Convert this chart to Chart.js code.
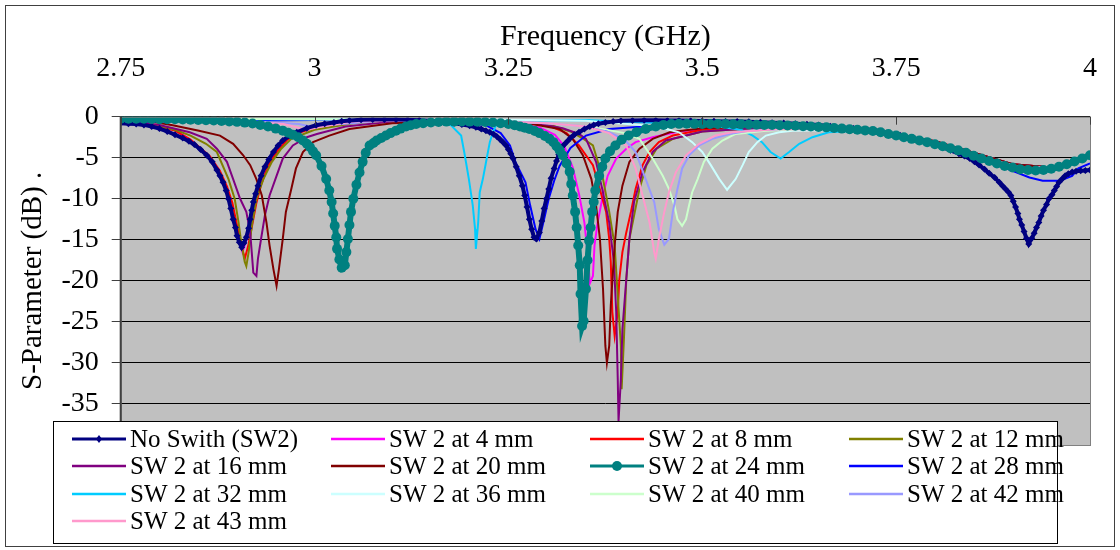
<!DOCTYPE html>
<html>
<head>
<meta charset="utf-8">
<title>S-Parameter vs Frequency</title>
<script src="https://cdn.jsdelivr.net/npm/chart.js@4/dist/chart.umd.min.js"></script>
<style>
  html, body { margin: 0; padding: 0; background: #fff; }
  #wrap { width: 1120px; height: 550px; }
</style>
</head>
<body>
<div id="wrap"><canvas id="sparamChart" width="1120" height="550"></canvas></div>
<script>
const freqTicks = [2.75, 3, 3.25, 3.5, 3.75, 4];
const dbTicks = [0, -5, -10, -15, -20, -25, -30, -35];

const noSwitch = [[2.75,-0.8],[2.76,-0.85],[2.77,-0.9],[2.78,-1.0],[2.79,-1.2],[2.80,-1.45],[2.81,-1.8],[2.82,-2.2],[2.83,-2.6],[2.838,-3.0],[2.845,-3.4],[2.853,-4.0],[2.861,-4.7],[2.868,-5.5],[2.874,-6.5],[2.878,-7.2],[2.882,-8.0],[2.886,-9.0],[2.889,-10],[2.892,-11.2],[2.895,-12.5],[2.898,-13.5],[2.900,-14.5],[2.903,-15.3],[2.906,-15.9],[2.909,-15.4],[2.912,-14.7],[2.915,-13.6],[2.917,-12.5],[2.919,-11.4],[2.921,-10.4],[2.924,-9.4],[2.927,-8.4],[2.931,-7.2],[2.936,-6.1],[2.941,-5.2],[2.947,-4.3],[2.953,-3.5],[2.959,-2.9],[2.968,-2.3],[2.977,-1.9],[2.99,-1.4],[3.002,-1.05],[3.013,-0.85],[3.025,-0.7],[3.035,-0.55],[3.045,-0.45],[3.06,-0.38],[3.075,-0.35],[3.09,-0.35],[3.105,-0.35],[3.12,-0.37],[3.135,-0.42],[3.15,-0.5],[3.165,-0.62],[3.18,-0.8],[3.19,-0.95],[3.20,-1.1],[3.208,-1.3],[3.215,-1.5],[3.221,-1.7],[3.226,-1.9],[3.231,-2.15],[3.235,-2.4],[3.239,-2.75],[3.243,-3.1],[3.247,-3.5],[3.250,-4.0],[3.253,-4.5],[3.256,-5.1],[3.260,-6.1],[3.264,-7.2],[3.268,-8.4],[3.271,-9.6],[3.274,-11.0],[3.277,-12.5],[3.280,-13.7],[3.283,-14.7],[3.286,-14.9],[3.290,-14.1],[3.293,-12.7],[3.296,-11.2],[3.299,-10.0],[3.302,-8.8],[3.305,-7.5],[3.309,-6.3],[3.312,-5.4],[3.315,-4.6],[3.318,-4.0],[3.322,-3.4],[3.326,-3.0],[3.330,-2.6],[3.335,-2.2],[3.341,-1.9],[3.348,-1.5],[3.355,-1.2],[3.36,-1.0],[3.366,-0.85],[3.375,-0.7],[3.385,-0.6],[3.395,-0.5],[3.41,-0.45],[3.425,-0.42],[3.44,-0.42],[3.455,-0.45],[3.47,-0.47],[3.485,-0.5],[3.50,-0.52],[3.515,-0.55],[3.53,-0.57],[3.545,-0.6],[3.56,-0.63],[3.575,-0.68],[3.59,-0.73],[3.605,-0.78],[3.62,-0.85],[3.635,-0.92],[3.65,-1.0],[3.665,-1.15],[3.68,-1.3],[3.695,-1.45],[3.71,-1.6],[3.725,-1.8],[3.74,-2.0],[3.755,-2.25],[3.77,-2.55],[3.78,-2.8],[3.79,-3.1],[3.80,-3.4],[3.81,-3.7],[3.82,-4.1],[3.831,-4.5],[3.838,-4.8],[3.845,-5.1],[3.851,-5.5],[3.857,-5.9],[3.864,-6.4],[3.870,-6.9],[3.877,-7.4],[3.883,-8.0],[3.887,-8.4],[3.891,-8.8],[3.895,-9.2],[3.898,-9.6],[3.901,-10.3],[3.904,-11.0],[3.907,-11.8],[3.909,-12.5],[3.912,-13.2],[3.915,-14.0],[3.918,-14.8],[3.921,-15.5],[3.925,-14.8],[3.928,-14.2],[3.931,-13.5],[3.934,-12.9],[3.937,-12.1],[3.940,-11.4],[3.944,-10.7],[3.947,-10],[3.951,-9.5],[3.954,-9.0],[3.957,-8.5],[3.960,-8],[3.964,-7.6],[3.968,-7.2],[3.972,-6.95],[3.977,-6.75],[3.982,-6.65],[3.988,-6.6],[3.994,-6.55],[4.0,-6.5]];

const sw4 = [[2.75,-0.5],[2.79,-0.9],[2.82,-1.6],[2.84,-2.8],[2.862,-4.8],[2.875,-6.6],[2.883,-8.2],[2.89,-10.3],[2.896,-12.8],[2.901,-14.9],[2.907,-16.5],[2.913,-14.8],[2.918,-12.4],[2.923,-10.2],[2.929,-8.2],[2.938,-6.0],[2.95,-4.2],[2.962,-2.8],[2.98,-1.8],[3.005,-1.0],[3.05,-0.5],[3.1,-0.3],[3.2,-0.4],[3.26,-0.8],[3.29,-1.3],[3.31,-2.2],[3.322,-3.6],[3.333,-6.2],[3.341,-9.4],[3.348,-12.9],[3.352,-16.5],[3.355,-20.3],[3.359,-19.4],[3.361,-15.7],[3.365,-12.9],[3.371,-10],[3.378,-7.2],[3.389,-5.1],[3.402,-3.9],[3.414,-3.1],[3.436,-2.5],[3.47,-1.8],[3.52,-1.3],[3.6,-1.0],[3.7,-1.5],[3.8,-3.0],[3.9,-5.8],[3.95,-6.2],[4.0,-4.9]];

const sw8 = [[2.75,-0.6],[2.79,-1.0],[2.82,-1.7],[2.84,-2.8],[2.865,-4.8],[2.878,-6.6],[2.887,-8.5],[2.894,-10.5],[2.899,-12.8],[2.904,-15.0],[2.910,-17.3],[2.915,-15.5],[2.920,-13],[2.925,-10.5],[2.931,-8.3],[2.940,-6.0],[2.952,-4.2],[2.965,-2.8],[2.985,-1.8],[3.01,-1.0],[3.06,-0.5],[3.15,-0.3],[3.25,-0.5],[3.30,-1.0],[3.325,-2.0],[3.341,-3.5],[3.359,-5.9],[3.369,-9.2],[3.376,-11.6],[3.380,-14.9],[3.382,-17.7],[3.384,-23.8],[3.387,-26.7],[3.391,-23.8],[3.393,-19.8],[3.397,-16.5],[3.402,-14.1],[3.408,-11.6],[3.414,-8.8],[3.423,-5.9],[3.432,-4.3],[3.444,-3.1],[3.462,-2.3],[3.5,-1.6],[3.6,-1.1],[3.7,-1.5],[3.8,-3.0],[3.9,-5.8],[3.95,-6.2],[4.0,-4.9]];

const sw12 = [[2.75,-0.6],[2.79,-0.9],[2.82,-1.6],[2.84,-2.3],[2.86,-3.3],[2.874,-4.3],[2.889,-7.6],[2.897,-10],[2.902,-12.9],[2.906,-15.7],[2.910,-17.7],[2.912,-18.2],[2.915,-16.5],[2.919,-13.3],[2.925,-10],[2.934,-7.6],[2.945,-5.5],[2.957,-3.9],[2.970,-2.7],[3.0,-1.6],[3.05,-0.8],[3.12,-0.4],[3.2,-0.4],[3.27,-0.6],[3.30,-0.9],[3.33,-1.8],[3.345,-2.6],[3.359,-3.5],[3.372,-7.6],[3.380,-11.6],[3.387,-15.7],[3.391,-21.8],[3.395,-27.9],[3.396,-33.2],[3.399,-27],[3.402,-19.8],[3.406,-14.9],[3.413,-11.6],[3.419,-8.8],[3.428,-5.9],[3.441,-3.9],[3.462,-2.7],[3.5,-1.8],[3.6,-1.2],[3.7,-1.5],[3.8,-3.0],[3.9,-5.8],[3.95,-6.2],[4.0,-4.9]];

const sw16 = [[2.75,-0.5],[2.80,-1.0],[2.839,-1.9],[2.861,-2.7],[2.874,-3.9],[2.887,-5.5],[2.895,-7.6],[2.904,-10],[2.912,-11.6],[2.917,-14.1],[2.919,-16.5],[2.921,-19],[2.925,-19.4],[2.927,-17.3],[2.931,-14.9],[2.936,-12],[2.942,-9.6],[2.951,-7.2],[2.959,-5.1],[2.972,-3.5],[2.990,-2.5],[3.003,-2.1],[3.04,-1.2],[3.1,-0.6],[3.2,-0.4],[3.28,-0.7],[3.32,-1.4],[3.341,-2.1],[3.350,-2.7],[3.363,-5.5],[3.371,-8.8],[3.380,-12.9],[3.386,-17.7],[3.389,-23.8],[3.391,-32],[3.392,-37.1],[3.395,-32],[3.397,-25.9],[3.402,-19.8],[3.406,-14.9],[3.412,-10.4],[3.423,-6.75],[3.436,-4.3],[3.453,-2.9],[3.5,-1.8],[3.6,-1.2],[3.7,-1.5],[3.8,-3.0],[3.9,-5.8],[3.95,-6.2],[4.0,-4.9]];

const sw20 = [[2.75,-0.3],[2.79,-0.6],[2.817,-1.05],[2.851,-1.7],[2.878,-2.3],[2.895,-3.3],[2.908,-4.7],[2.917,-5.9],[2.925,-7.6],[2.932,-9.6],[2.938,-12.9],[2.942,-15.7],[2.947,-18.6],[2.951,-20.6],[2.954,-18.6],[2.959,-14.9],[2.963,-11.6],[2.970,-8.8],[2.976,-6.3],[2.985,-4.3],[2.998,-3.1],[3.019,-2.3],[3.045,-1.5],[3.1,-0.8],[3.2,-0.5],[3.28,-0.9],[3.316,-1.5],[3.333,-2.7],[3.346,-4.7],[3.357,-7.6],[3.363,-10.8],[3.368,-14.9],[3.372,-21],[3.375,-27.9],[3.377,-30],[3.380,-27.9],[3.382,-23],[3.387,-15.7],[3.391,-11.6],[3.397,-8.4],[3.406,-5.5],[3.419,-3.9],[3.436,-2.7],[3.458,-1.9],[3.5,-1.4],[3.6,-1.1],[3.7,-1.5],[3.8,-3.0],[3.9,-5.8],[3.95,-6.2],[4.0,-4.9]];

const sw24 = [[2.75,-0.25],[2.76,-0.25],[2.77,-0.25],[2.78,-0.25],[2.79,-0.28],[2.80,-0.3],[2.81,-0.3],[2.82,-0.32],[2.83,-0.35],[2.84,-0.37],[2.85,-0.4],[2.86,-0.43],[2.87,-0.47],[2.88,-0.52],[2.89,-0.57],[2.90,-0.63],[2.91,-0.72],[2.92,-0.83],[2.93,-1.0],[2.94,-1.2],[2.95,-1.45],[2.959,-1.7],[2.966,-1.95],[2.972,-2.2],[2.979,-2.5],[2.985,-2.9],[2.99,-3.3],[2.994,-3.7],[2.998,-4.2],[3.002,-4.7],[3.009,-6.0],[3.015,-7.6],[3.019,-9.0],[3.022,-10.4],[3.024,-11.8],[3.026,-13.3],[3.028,-14.7],[3.029,-16.1],[3.032,-17.4],[3.035,-18.4],[3.039,-18.1],[3.041,-16.5],[3.043,-14.9],[3.045,-13.2],[3.047,-11.6],[3.050,-10.0],[3.054,-8.3],[3.058,-6.8],[3.062,-5.5],[3.066,-4.4],[3.071,-3.5],[3.076,-3.2],[3.080,-2.9],[3.086,-2.6],[3.092,-2.3],[3.098,-2.0],[3.105,-1.7],[3.111,-1.45],[3.118,-1.2],[3.124,-1.05],[3.131,-0.9],[3.14,-0.8],[3.15,-0.7],[3.16,-0.65],[3.17,-0.6],[3.18,-0.6],[3.19,-0.58],[3.20,-0.6],[3.21,-0.62],[3.22,-0.65],[3.23,-0.7],[3.24,-0.8],[3.25,-0.9],[3.258,-1.05],[3.265,-1.2],[3.271,-1.35],[3.277,-1.5],[3.284,-1.75],[3.29,-2.0],[3.297,-2.35],[3.303,-2.7],[3.308,-3.1],[3.312,-3.6],[3.316,-4.1],[3.320,-4.7],[3.325,-5.7],[3.329,-6.7],[3.331,-8.2],[3.333,-9.6],[3.336,-11.6],[3.338,-13.5],[3.340,-15.7],[3.342,-18.1],[3.343,-21.6],[3.345,-25.5],[3.347,-24.9],[3.350,-21],[3.352,-17.5],[3.354,-15.1],[3.356,-13.5],[3.358,-11.6],[3.360,-10.4],[3.362,-9],[3.367,-7.2],[3.371,-6.1],[3.375,-5.1],[3.381,-4.2],[3.388,-3.5],[3.396,-2.8],[3.405,-2.3],[3.415,-1.9],[3.427,-1.5],[3.44,-1.2],[3.45,-1.0],[3.46,-0.9],[3.47,-0.87],[3.48,-0.85],[3.49,-0.87],[3.50,-0.9],[3.51,-0.9],[3.52,-0.9],[3.53,-0.9],[3.54,-0.92],[3.55,-0.93],[3.56,-0.95],[3.57,-0.97],[3.58,-1.0],[3.59,-1.0],[3.60,-1.05],[3.61,-1.07],[3.62,-1.1],[3.63,-1.15],[3.64,-1.2],[3.65,-1.25],[3.66,-1.3],[3.67,-1.38],[3.68,-1.45],[3.69,-1.52],[3.70,-1.6],[3.71,-1.67],[3.72,-1.75],[3.73,-1.9],[3.74,-2.1],[3.75,-2.3],[3.76,-2.5],[3.77,-2.7],[3.78,-2.9],[3.79,-3.1],[3.80,-3.35],[3.81,-3.6],[3.82,-3.85],[3.83,-4.1],[3.84,-4.4],[3.85,-4.75],[3.86,-5.1],[3.87,-5.4],[3.88,-5.7],[3.89,-6.0],[3.90,-6.2],[3.91,-6.4],[3.92,-6.5],[3.93,-6.55],[3.94,-6.5],[3.95,-6.35],[3.96,-6.1],[3.97,-5.8],[3.98,-5.45],[3.99,-5.1],[4.0,-4.7]];

const sw28 = [[2.75,-0.6],[2.8,-0.6],[2.9,-0.5],[3.0,-0.4],[3.1,-0.3],[3.18,-0.5],[3.22,-1.0],[3.24,-2.0],[3.252,-3.5],[3.259,-5.5],[3.272,-8],[3.278,-10.8],[3.285,-13.7],[3.290,-14.9],[3.296,-12.5],[3.302,-10],[3.309,-7.8],[3.316,-6.0],[3.33,-3.8],[3.35,-2.3],[3.38,-1.5],[3.45,-1.0],[3.6,-1.0],[3.7,-1.6],[3.78,-2.9],[3.83,-4.2],[3.873,-5.6],[3.90,-6.6],[3.922,-7.4],[3.939,-7.8],[3.961,-7.8],[3.977,-7.2],[3.985,-6.3],[4.0,-5.7]];

const sw32 = [[2.75,-0.3],[2.9,-0.3],[3.0,-0.3],[3.1,-0.4],[3.15,-0.6],[3.176,-1.05],[3.189,-2.3],[3.193,-4.3],[3.199,-7.6],[3.204,-10.8],[3.207,-13.7],[3.208,-16.1],[3.211,-12.9],[3.213,-9.2],[3.217,-7.6],[3.222,-5.1],[3.226,-3.1],[3.230,-1.9],[3.234,-1.05],[3.27,-0.5],[3.35,-0.4],[3.45,-0.8],[3.52,-1.2],[3.55,-1.6],[3.565,-2.3],[3.577,-3.1],[3.588,-4.3],[3.601,-5.1],[3.612,-4.3],[3.625,-3.3],[3.642,-2.5],[3.663,-1.9],[3.7,-1.7],[3.78,-2.8],[3.83,-4.0],[3.873,-5.4],[3.917,-6.4],[3.951,-6.2],[3.977,-5.5],[4.0,-4.9]];

const sw36 = [[2.75,-0.2],[3.0,-0.3],[3.2,-0.3],[3.35,-0.5],[3.42,-1.0],[3.45,-1.4],[3.470,-1.9],[3.487,-3.1],[3.500,-4.3],[3.511,-5.9],[3.522,-7.6],[3.532,-8.9],[3.543,-7.6],[3.552,-5.9],[3.560,-4.3],[3.571,-3.1],[3.582,-2.3],[3.599,-1.9],[3.616,-1.7],[3.7,-1.6],[3.78,-2.8],[3.83,-4.0],[3.873,-5.3],[3.917,-6.3],[3.951,-6.1],[3.977,-5.4],[4.0,-4.7]];

const sw40 = [[2.75,-0.2],[3.0,-0.3],[3.2,-0.4],[3.3,-0.8],[3.36,-1.3],[3.40,-2.0],[3.419,-2.7],[3.436,-5.1],[3.449,-7.2],[3.457,-8.8],[3.464,-10.8],[3.468,-12.5],[3.474,-13.3],[3.479,-12.5],[3.483,-10.8],[3.487,-9.2],[3.494,-7.6],[3.502,-5.5],[3.513,-3.9],[3.526,-2.9],[3.543,-2.1],[3.582,-1.7],[3.65,-1.4],[3.72,-1.7],[3.78,-2.8],[3.83,-4.0],[3.873,-5.3],[3.917,-6.3],[3.951,-6.1],[3.977,-5.4],[4.0,-4.8]];

const sw42 = [[2.75,-0.4],[2.9,-0.5],[2.98,-0.9],[3.0,-1.3],[3.02,-1.0],[3.1,-0.4],[3.2,-0.4],[3.3,-0.8],[3.35,-1.2],[3.380,-1.9],[3.40,-2.8],[3.414,-4.3],[3.427,-7.6],[3.438,-10.4],[3.444,-13.7],[3.451,-15.6],[3.457,-14.9],[3.462,-11.6],[3.468,-8.8],[3.474,-6.3],[3.483,-4.7],[3.496,-3.5],[3.513,-2.7],[3.535,-2.1],[3.560,-1.7],[3.65,-1.3],[3.72,-1.7],[3.78,-2.8],[3.83,-4.0],[3.873,-5.3],[3.917,-6.3],[3.951,-6.1],[3.977,-5.4],[4.0,-4.8]];

const sw43 = [[2.75,-0.4],[2.9,-0.5],[2.96,-0.9],[2.99,-1.6],[3.01,-1.2],[3.05,-0.6],[3.2,-0.4],[3.3,-0.8],[3.35,-1.2],[3.38,-2.0],[3.402,-3.5],[3.414,-6.3],[3.423,-9.6],[3.432,-12.9],[3.438,-16.5],[3.440,-17.3],[3.444,-14.9],[3.451,-11.6],[3.457,-9.2],[3.466,-6.75],[3.479,-4.7],[3.496,-3.3],[3.517,-2.3],[3.539,-1.9],[3.6,-1.5],[3.7,-1.6],[3.78,-2.8],[3.83,-4.0],[3.873,-5.3],[3.917,-6.3],[3.951,-6.1],[3.977,-5.4],[4.0,-4.8]];

const FONT = "'Liberation Serif', 'Times New Roman', serif";

// label, data, colour, line width, marker
const seriesList = [
  { label: 'No Swith (SW2)', pts: noSwitch, color: '#000080', width: 4, marker: 'rectRot', radius: 3.5, order: 1 },
  { label: 'SW 2 at 4 mm',  pts: sw4,  color: '#FF00FF', width: 2 },
  { label: 'SW 2 at 8 mm',  pts: sw8,  color: '#FF0000', width: 2 },
  { label: 'SW 2 at 12 mm', pts: sw12, color: '#808000', width: 2 },
  { label: 'SW 2 at 16 mm', pts: sw16, color: '#800080', width: 2 },
  { label: 'SW 2 at 20 mm', pts: sw20, color: '#800000', width: 2 },
  { label: 'SW 2 at 24 mm', pts: sw24, color: '#008080', width: 6, marker: 'circle', radius: 5, order: 0 },
  { label: 'SW 2 at 28 mm', pts: sw28, color: '#0000FF', width: 2 },
  { label: 'SW 2 at 32 mm', pts: sw32, color: '#00CCFF', width: 2 },
  { label: 'SW 2 at 36 mm', pts: sw36, color: '#CCFFFF', width: 2 },
  { label: 'SW 2 at 40 mm', pts: sw40, color: '#CCFFCC', width: 2 },
  { label: 'SW 2 at 42 mm', pts: sw42, color: '#9999FF', width: 2 },
  { label: 'SW 2 at 43 mm', pts: sw43, color: '#FF99CC', width: 2 }
];

const datasets = seriesList.map((s, i) => ({
  label: s.label,
  data: s.pts.map(p => ({ x: p[0], y: p[1] })),
  borderColor: s.color,
  backgroundColor: s.color,
  borderWidth: s.width,
  pointStyle: s.marker || 'circle',
  pointRadius: s.marker ? s.radius : 0,
  pointBorderWidth: 0,
  tension: 0,
  fill: false,
  // later series drawn over earlier ones, like the original spreadsheet
  order: s.order !== undefined ? s.order : 20 - i
}));

// white page, grey plot area and outer frame
const backgroundPlugin = {
  id: 'background',
  beforeDraw(chart) {
    const { ctx, chartArea: a } = chart;
    ctx.save();
    ctx.fillStyle = '#fff';
    ctx.fillRect(0, 0, chart.width, chart.height);
    ctx.fillStyle = '#C0C0C0';
    ctx.fillRect(a.left, a.top, a.right - a.left, a.bottom - a.top);
    ctx.restore();
  },
  afterDatasetsDraw(chart) {
    const { ctx, chartArea: a, scales } = chart;
    ctx.save();
    ctx.strokeStyle = '#808080';
    ctx.lineWidth = 1;
    ctx.strokeRect(a.left + 0.5, a.top + 0.5, a.right - a.left, a.bottom - a.top);
    ctx.strokeStyle = '#404040';
    ctx.lineWidth = 2;
    ctx.beginPath();
    ctx.moveTo(a.left, a.top);
    ctx.lineTo(a.left, a.bottom);
    ctx.stroke();
    // x tick marks pointing into the plot
    ctx.lineWidth = 1;
    freqTicks.forEach(v => {
      const x = Math.round(scales.x.getPixelForValue(v)) + 0.5;
      ctx.beginPath();
      ctx.moveTo(x, a.top);
      ctx.lineTo(x, a.top + 8);
      ctx.stroke();
    });
    ctx.restore();
  }
};

// legend box laid over the lower part of the plot
const boxLegendPlugin = {
  id: 'boxLegend',
  afterDraw(chart) {
    const { ctx } = chart;
    const left = 53, top = 421, right = 1057, bottom = 543;
    const colX = [72, 331, 590, 849];
    const rowY = [439, 466, 494, 521];
    ctx.save();
    ctx.fillStyle = '#fff';
    ctx.fillRect(left, top, right - left, bottom - top);
    ctx.strokeStyle = '#000';
    ctx.lineWidth = 1;
    ctx.strokeRect(left + 0.5, top + 0.5, right - left, bottom - top);
    ctx.font = '25px ' + FONT;
    ctx.textBaseline = 'middle';
    ctx.textAlign = 'left';
    chart.data.datasets.forEach((ds, i) => {
      const s = seriesList[i];
      const x0 = colX[i % 4], y = rowY[Math.floor(i / 4)];
      ctx.strokeStyle = s.color;
      ctx.lineWidth = s.marker ? 3 : 2.5;
      ctx.beginPath();
      ctx.moveTo(x0, y);
      ctx.lineTo(x0 + 54, y);
      ctx.stroke();
      if (s.marker) {
        ctx.fillStyle = s.color;
        const cx = x0 + 27;
        ctx.beginPath();
        if (s.marker === 'circle') {
          ctx.arc(cx, y, 5, 0, Math.PI * 2);
        } else {
          ctx.moveTo(cx, y - 4); ctx.lineTo(cx + 3, y); ctx.lineTo(cx, y + 4); ctx.lineTo(cx - 3, y);
          ctx.closePath();
        }
        ctx.fill();
      }
      ctx.fillStyle = '#000';
      ctx.fillText(ds.label, x0 + 58, y + 1);
    });
    // outer frame of the whole chart
    ctx.strokeStyle = '#404040';
    ctx.lineWidth = 1;
    ctx.strokeRect(5.5, 5.5, 1109, 541);
    ctx.restore();
  }
};

new Chart(document.getElementById('sparamChart'), {
  type: 'line',
  data: { datasets },
  options: {
    responsive: false,
    animation: false,
    layout: { padding: { left: 6, top: 6, right: 28, bottom: 105 } },
    plugins: { legend: { display: false }, tooltip: { enabled: false } },
    scales: {
      x: {
        type: 'linear',
        position: 'top',
        min: 2.75,
        max: 4,
        afterBuildTicks: s => { s.ticks = freqTicks.map(v => ({ value: v })); },
        afterFit: s => { s.height = 110.7; },
        ticks: {
          color: '#000',
          font: { family: FONT, size: 28 },
          padding: 23,
          maxRotation: 0,
          callback: v => String(v)
        },
        grid: { display: false },
        border: { display: false },
        title: {
          display: true,
          text: 'Frequency (GHz)',
          color: '#000',
          font: { family: FONT, size: 30 },
          padding: { top: 13, bottom: 0 }
        }
      },
      y: {
        type: 'linear',
        min: -40,
        max: 0,
        afterBuildTicks: s => { s.ticks = dbTicks.map(v => ({ value: v })); },
        afterFit: s => { s.width = 114.7; },
        ticks: {
          color: '#000',
          font: { family: FONT, size: 28 },
          padding: 13,
          callback: v => String(v)
        },
        grid: { color: '#000', lineWidth: 1, tickLength: 9, tickColor: '#404040', drawTicks: true },
        border: { display: false },
        title: {
          display: true,
          text: 'S-Parameter (dB) .',
          color: '#000',
          font: { family: FONT, size: 29 },
          padding: { top: 10, bottom: 0 }
        }
      }
    }
  },
  plugins: [backgroundPlugin, boxLegendPlugin]
});
</script>
</body>
</html>
